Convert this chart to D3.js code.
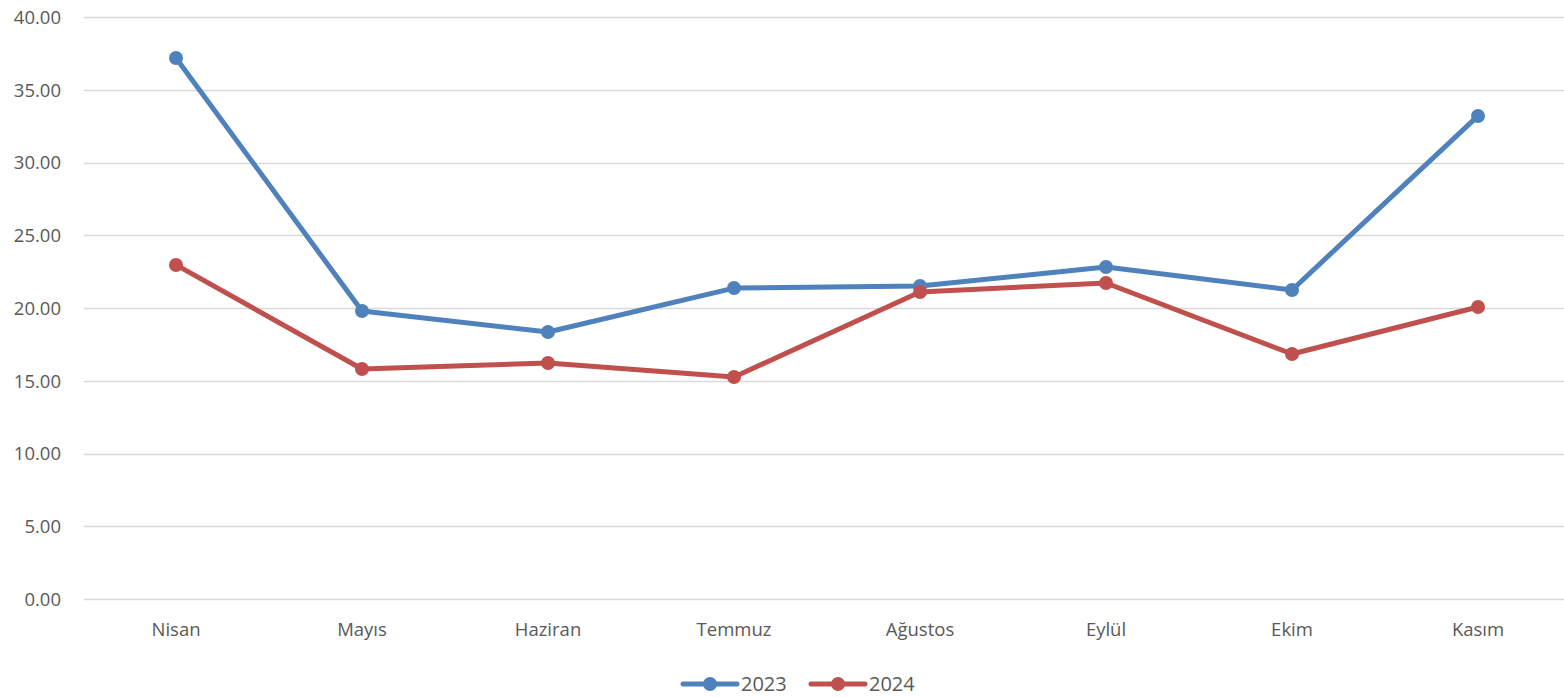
<!DOCTYPE html>
<html lang="tr">
<head>
<meta charset="UTF-8">
<title>2023 - 2024</title>
<style>
  body { margin: 0; background: #fff; }
  svg { display: block; }
  text { font-family: 'Open Sans', 'Noto Sans', sans-serif; fill: #595959; }
</style>
</head>
<body>
<svg id="chart" width="1564" height="698"></svg>
<script src="https://d3js.org/d3.v7.min.js"></script>
<script>
  const months = ["Nisan", "Mayıs", "Haziran", "Temmuz", "Ağustos", "Eylül", "Ekim", "Kasım"];
  const values2023 = [37.18, 19.79, 18.35, 21.37, 21.51, 22.82, 21.24, 33.20];
  const values2024 = [22.96, 15.81, 16.22, 15.26, 21.10, 21.72, 16.84, 20.07];
  const yTicks = [0, 5, 10, 15, 20, 25, 30, 35, 40];

  const series = [
    { name: "2023", values: values2023, color: "#4F81BD" },
    { name: "2024", values: values2024, color: "#C0504D" }
  ];

  const svg = d3.select("#chart");
  const plotLeft = 83, plotRight = 1571, plotTop = 17, plotBottom = 599;

  const x = d3.scaleBand().domain(months).range([plotLeft, plotRight]);
  const y = d3.scaleLinear().domain([0, 40]).range([plotBottom, plotTop]);

  // grid lines
  svg.append("g")
    .selectAll("line")
    .data(yTicks)
    .join("line")
    .attr("x1", plotLeft + 1)
    .attr("x2", 1564)
    .attr("y1", d => Math.round(y(d)) + 0.5)
    .attr("y2", d => Math.round(y(d)) + 0.5)
    .attr("stroke", "#d9d9d9")
    .attr("stroke-width", 1.3);

  // y axis labels
  const yAxis = svg.append("g")
    .attr("transform", `translate(${plotLeft - 22},0)`)
    .call(d3.axisLeft(y).tickValues(yTicks).tickFormat(d3.format(".2f")).tickSize(0).tickPadding(0));
  yAxis.select(".domain").remove();
  yAxis.selectAll("text")
    .attr("font-size", 18.5)
    .attr("dy", "0.35em")
    .style("font-family", "'Open Sans', sans-serif")
    .attr("fill", "#595959");

  // x axis labels
  const xAxis = svg.append("g")
    .attr("transform", `translate(0,${plotBottom + 24})`)
    .call(d3.axisBottom(x).tickSize(0).tickPadding(0));
  xAxis.select(".domain").remove();
  xAxis.selectAll("text")
    .attr("font-size", 18.5)
    .attr("dy", "0.71em")
    .style("font-family", "'Open Sans', sans-serif")
    .attr("fill", "#595959");

  const cx = d => x(d) + x.bandwidth() / 2;
  const line = d3.line()
    .x((d, i) => cx(months[i]))
    .y(d => y(d));

  series.forEach(s => {
    svg.append("path")
      .datum(s.values)
      .attr("d", line)
      .attr("fill", "none")
      .attr("stroke", s.color)
      .attr("stroke-width", 5)
      .attr("stroke-linejoin", "round")
      .attr("stroke-linecap", "round");

    svg.append("g")
      .selectAll("circle")
      .data(s.values)
      .join("circle")
      .attr("cx", (d, i) => cx(months[i]))
      .attr("cy", d => y(d))
      .attr("r", 7)
      .attr("fill", s.color);
  });

  // legend
  const legend = svg.append("g").attr("transform", "translate(683,684)");
  series.forEach((s, i) => {
    const g = legend.append("g").attr("transform", `translate(${i * 128},0)`);
    g.append("line")
      .attr("x1", 0).attr("x2", 54)
      .attr("y1", 0).attr("y2", 0)
      .attr("stroke", s.color)
      .attr("stroke-width", 5)
      .attr("stroke-linecap", "round");
    g.append("circle")
      .attr("cx", 27).attr("cy", 0).attr("r", 7)
      .attr("fill", s.color);
    g.append("text")
      .attr("x", 58)
      .attr("y", 0)
      .attr("dy", "0.35em")
      .attr("font-size", 20)
      .text(s.name);
  });
</script>
</body>
</html>
